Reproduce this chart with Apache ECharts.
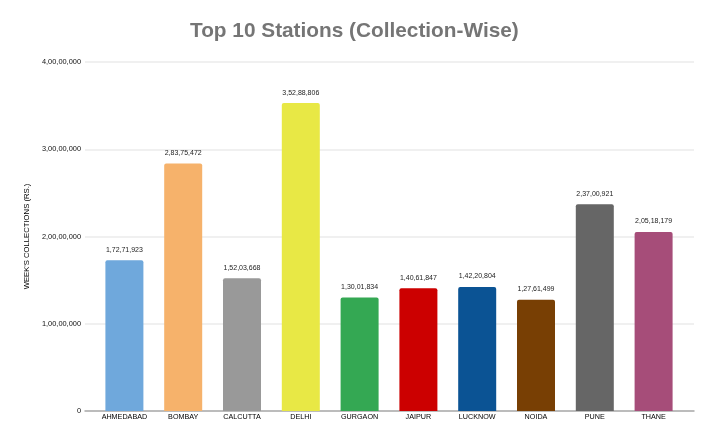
<!DOCTYPE html>
<html>
<head>
<meta charset="utf-8">
<script src="https://cdn.jsdelivr.net/npm/echarts@6/dist/echarts.min.js"></script>
<style>html,body{margin:0;padding:0;background:#fff}#c{width:717px;height:442px}</style>
</head>
<body>
<div id="c"></div>
<script>
const categories = ["AHMEDABAD","BOMBAY","CALCUTTA","DELHI","GURGAON","JAIPUR","LUCKNOW","NOIDA","PUNE","THANE"];
const values = [17271923, 28375472, 15203668, 35288806, 13001834, 14061847, 14220804, 12761499, 23700921, 20518179];
const colors = ["#6fa8dc","#f6b26b","#999999","#e8e845","#34a853","#cc0000","#0b5394","#783f04","#666666","#a64d79"];
const yTicks = [0, 10000000, 20000000, 30000000, 40000000];

function inr(n){
  const s = String(Math.round(n));
  if (s.length <= 3) return s;
  const last3 = s.slice(-3);
  let rest = s.slice(0, -3);
  const parts = [];
  while (rest.length > 2) { parts.unshift(rest.slice(-2)); rest = rest.slice(0, -2); }
  if (rest.length) parts.unshift(rest);
  return parts.join(',') + ',' + last3;
}

const font = 'Liberation Sans, Arial';
const yMin = yTicks[0], yMax = yTicks[yTicks.length-1], yInt = yTicks[1]-yTicks[0];

const chart = echarts.init(document.getElementById('c'));
chart.setOption({
  animation: false,
  backgroundColor: '#fff',
  title: {
    text: 'Top 10 Stations (Collection-Wise)',
    left: 185, top: 16,
    textStyle: {fontFamily: font, fontSize: 20.8, fontWeight: 'bold', color: '#757575'}
  },
  grid: [
    {left: 85, right: 23, top: 62, bottom: 31},
    {left: 95, right: 34, top: 62, bottom: 31}
  ],
  xAxis: [
    {
      gridIndex: 0, type: 'value', min: 0, max: 1,
      axisLine: {show: true, lineStyle: {color: '#aaaaaa', width: 1.5}},
      axisTick: {show: false}, axisLabel: {show: false}, splitLine: {show: false}
    },
    {
      gridIndex: 1, type: 'category', data: categories,
      axisLine: {show: false},
      axisTick: {show: false},
      axisLabel: {interval: 0, color: '#000', fontSize: 7.2, fontFamily: font, margin: 3}
    }
  ],
  yAxis: [
    {
      gridIndex: 0, type: 'value', min: yMin, max: yMax, interval: yInt,
      name: "WEEK'S COLLECTIONS (RS.)", nameLocation: 'middle', nameGap: 48,
      nameTextStyle: {color: '#000', fontSize: 7.7, fontFamily: font},
      axisLine: {show: false}, axisTick: {show: false},
      axisLabel: {color: '#111', fontSize: 7.4, fontFamily: font, margin: 4, formatter: v => inr(v)},
      splitLine: {lineStyle: {color: '#ebebeb', width: 1.5}}
    },
    {
      gridIndex: 1, type: 'value', min: yMin, max: yMax, interval: yInt,
      axisLine: {show: false}, axisTick: {show: false}, axisLabel: {show: false}, splitLine: {show: false}
    }
  ],
  series: [{
    type: 'bar',
    xAxisIndex: 1, yAxisIndex: 1,
    data: values.map((v, i) => ({value: v, itemStyle: {color: colors[i]}})),
    barWidth: 38,
    itemStyle: {borderRadius: [2, 2, 0, 0]},
    label: {
      show: true, position: 'top', distance: 7,
      color: '#222', fontSize: 7, fontFamily: font,
      formatter: p => inr(p.value)
    }
  }]
});
</script>
</body>
</html>
